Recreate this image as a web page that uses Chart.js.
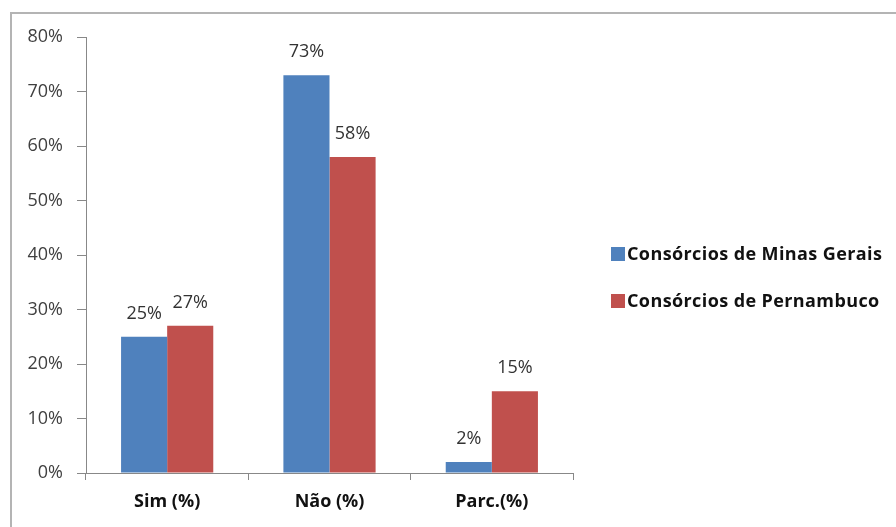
<!DOCTYPE html>
<html>
<head>
<meta charset="utf-8">
<script src="https://cdn.jsdelivr.net/npm/chart.js@4.4.1/dist/chart.umd.min.js"></script>
<style>
html,body{margin:0;padding:0;background:#fff}
#wrap{width:896px;height:527px;position:relative}
</style>
</head>
<body>
<div id="wrap"><canvas id="consorciosChart" width="896" height="527"></canvas></div>
<script>

// respostas por grupo de consórcios
const categorias = ["Sim (%)", "Não (%)", "Parc.(%)"]
const minasGerais = [25, 73, 2]
const pernambuco = [27, 58, 15]
const serieNomes = ["Consórcios de Minas Gerais", "Consórcios de Pernambuco"]
const serieCores = ["#4F81BD", "#C0504D"]

const fonte = "'Open Sans', Lato, sans-serif"

// moldura (só topo e esquerda aparecem)
const moldura = {
id:"moldura",
beforeDraw(chart){
const c = chart.ctx
c.save()
c.fillStyle = "#fff"
c.fillRect(0,0,chart.width,chart.height)
c.strokeStyle = "#b4b4b4"
c.lineWidth = 2
c.beginPath()
c.moveTo(11,chart.height)
c.lineTo(11,13)
c.lineTo(chart.width,13)
c.stroke()
c.restore()
}
}

// rótulos de valor acima das barras
const rotulos = {
id:"rotulos",
afterDatasetsDraw(chart){
const c = chart.ctx
c.save()
c.font = "18px " + fonte
c.fillStyle = "#333"
c.textAlign = "center"
c.textBaseline = "middle"
chart.data.datasets.forEach((ds,i)=>{
chart.getDatasetMeta(i).data.forEach((bar,j)=>{
c.fillText(ds.data[j] + "%", bar.x, bar.y - 23)
})
})
c.restore()
}
}

// legenda à direita
const legenda = {
id:"legenda",
afterDraw(chart){
const c = chart.ctx
c.save()
c.font = "bold 18px " + fonte
c.letterSpacing = "0.4px"
c.textBaseline = "middle"
chart.data.datasets.forEach((ds,i)=>{
const y = 254 + i*47
c.fillStyle = ds.backgroundColor
c.fillRect(611, y-7, 14, 14)
c.fillStyle = "#111"
c.fillText(ds.label, 627, y+1)
})
c.restore()
}
}

new Chart(document.getElementById("consorciosChart"),{

type:"bar",

data:{
labels:categorias,
datasets:[
{label:serieNomes[0], data:minasGerais, backgroundColor:serieCores[0]},
{label:serieNomes[1], data:pernambuco, backgroundColor:serieCores[1]}
]
},

options:{
responsive:false,
animation:false,
categoryPercentage:0.568,
barPercentage:1,
layout:{padding:{left:0,top:37,right:323,bottom:0}},

plugins:{
legend:{display:false},
tooltip:{enabled:false}
},

scales:{

x:{
afterFit(scale){ scale.height = 54 },
grid:{
offset:true,
drawOnChartArea:false,
tickLength:7,
color:"#888"
},
border:{color:"#888"},
ticks:{
padding:11,
color:"#111",
font:{family:fonte,size:18,weight:"bold"}
}
},

y:{
min:0,
max:80,
afterFit(scale){ scale.width = 86 },
grid:{
drawOnChartArea:false,
tickLength:9,
color:"#888"
},
border:{color:"#888"},
ticks:{
stepSize:10,
padding:14,
color:"#404040",
font:{family:fonte,size:18},
callback:v=>v+"%"
}
}

}

},

plugins:[moldura,rotulos,legenda]

})
</script>
</body>
</html>
